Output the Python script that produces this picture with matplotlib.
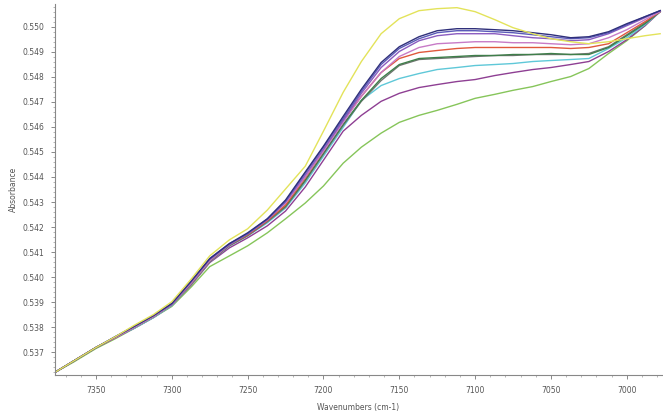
import matplotlib
matplotlib.use("Agg")
import matplotlib.pyplot as plt
from matplotlib.ticker import MultipleLocator, FormatStrFormatter

wavenumber = [7377, 7365, 7350, 7337, 7325, 7312, 7300, 7287, 7275, 7262, 7250,
              7237, 7225, 7212, 7200, 7187, 7175, 7162, 7150, 7137, 7125, 7112,
              7100, 7087, 7075, 7062, 7050, 7037, 7025, 7012, 7000, 6988, 6978]

yellow = [0.53620, 0.53664, 0.53719, 0.53763, 0.53807, 0.53851, 0.53902, 0.53994, 0.54085,
          0.54149, 0.54193, 0.54268, 0.54352, 0.54443, 0.54583, 0.54738, 0.54861, 0.54972,
          0.55032, 0.55064, 0.55072, 0.55076, 0.55060, 0.55028, 0.54996, 0.54972, 0.54952,
          0.54940, 0.54932, 0.54940, 0.54952, 0.54964, 0.54972]
navy = [0.53620, 0.53664, 0.53719, 0.53763, 0.53803, 0.53847, 0.53895, 0.53986, 0.54074,
        0.54134, 0.54177, 0.54233, 0.54308, 0.54420, 0.54523, 0.54642, 0.54750, 0.54857,
        0.54920, 0.54960, 0.54984, 0.54992, 0.54992, 0.54988, 0.54984, 0.54976, 0.54968,
        0.54956, 0.54960, 0.54980, 0.55012, 0.55040, 0.55064]
blue = [0.53620, 0.53664, 0.53719, 0.53763, 0.53803, 0.53847, 0.53895, 0.53986, 0.54074,
        0.54134, 0.54173, 0.54233, 0.54304, 0.54416, 0.54519, 0.54634, 0.54742, 0.54849,
        0.54913, 0.54952, 0.54976, 0.54984, 0.54984, 0.54980, 0.54976, 0.54968, 0.54960,
        0.54952, 0.54956, 0.54976, 0.55008, 0.55040, 0.55064]
purple = [0.53620, 0.53664, 0.53719, 0.53763, 0.53803, 0.53847, 0.53891, 0.53982, 0.54070,
          0.54130, 0.54173, 0.54229, 0.54300, 0.54408, 0.54511, 0.54626, 0.54734, 0.54837,
          0.54901, 0.54944, 0.54964, 0.54972, 0.54972, 0.54972, 0.54964, 0.54956, 0.54952,
          0.54944, 0.54948, 0.54972, 0.55004, 0.55036, 0.55064]
pink = [0.53620, 0.53664, 0.53719, 0.53759, 0.53799, 0.53843, 0.53891, 0.53978, 0.54066,
        0.54130, 0.54173, 0.54229, 0.54296, 0.54400, 0.54503, 0.54618, 0.54722, 0.54817,
        0.54881, 0.54917, 0.54932, 0.54936, 0.54940, 0.54940, 0.54936, 0.54936, 0.54932,
        0.54928, 0.54932, 0.54956, 0.54988, 0.55028, 0.55060]
red = [0.53620, 0.53664, 0.53719, 0.53759, 0.53799, 0.53843, 0.53891, 0.53978, 0.54066,
       0.54130, 0.54169, 0.54225, 0.54288, 0.54396, 0.54503, 0.54626, 0.54722, 0.54817,
       0.54873, 0.54897, 0.54905, 0.54913, 0.54917, 0.54917, 0.54917, 0.54917, 0.54917,
       0.54913, 0.54917, 0.54932, 0.54976, 0.55020, 0.55060]
dkgreen = [0.53620, 0.53664, 0.53719, 0.53759, 0.53799, 0.53843, 0.53891, 0.53978, 0.54066,
           0.54130, 0.54169, 0.54225, 0.54284, 0.54388, 0.54495, 0.54610, 0.54706, 0.54793,
           0.54849, 0.54873, 0.54877, 0.54881, 0.54885, 0.54885, 0.54889, 0.54889, 0.54893,
           0.54889, 0.54889, 0.54917, 0.54964, 0.55012, 0.55060]
gray = [0.53620, 0.53664, 0.53719, 0.53759, 0.53799, 0.53843, 0.53891, 0.53974, 0.54062,
        0.54125, 0.54165, 0.54221, 0.54280, 0.54384, 0.54491, 0.54606, 0.54702, 0.54785,
        0.54845, 0.54869, 0.54873, 0.54877, 0.54881, 0.54885, 0.54885, 0.54889, 0.54889,
        0.54889, 0.54893, 0.54920, 0.54968, 0.55016, 0.55060]
cyan = [0.53620, 0.53664, 0.53719, 0.53759, 0.53795, 0.53839, 0.53887, 0.53974, 0.54062,
        0.54125, 0.54165, 0.54217, 0.54276, 0.54376, 0.54483, 0.54598, 0.54706, 0.54765,
        0.54793, 0.54813, 0.54829, 0.54837, 0.54845, 0.54849, 0.54853, 0.54861, 0.54865,
        0.54869, 0.54873, 0.54913, 0.54956, 0.55008, 0.55060]
plum = [0.53620, 0.53664, 0.53719, 0.53759, 0.53795, 0.53839, 0.53887, 0.53970, 0.54058,
        0.54117, 0.54157, 0.54205, 0.54264, 0.54360, 0.54467, 0.54583, 0.54646, 0.54702,
        0.54734, 0.54757, 0.54769, 0.54781, 0.54789, 0.54805, 0.54817, 0.54829, 0.54837,
        0.54849, 0.54861, 0.54901, 0.54948, 0.55004, 0.55060]
lime = [0.53620, 0.53660, 0.53715, 0.53755, 0.53795, 0.53839, 0.53883, 0.53962, 0.54042,
        0.54085, 0.54125, 0.54177, 0.54233, 0.54296, 0.54364, 0.54455, 0.54519, 0.54575,
        0.54618, 0.54646, 0.54666, 0.54690, 0.54714, 0.54730, 0.54746, 0.54761, 0.54781,
        0.54801, 0.54833, 0.54893, 0.54944, 0.55004, 0.55064]

series = [
    (lime, "#86c55a"),
    (plum, "#8e3f93"),
    (cyan, "#5fc8d8"),
    (gray, "#6f7470"),
    (dkgreen, "#3f7f4a"),
    (red, "#e0583c"),
    (pink, "#c77bc7"),
    (purple, "#8a5cc0"),
    (blue, "#5a5ab8"),
    (navy, "#2f2f7a"),
    (yellow, "#e3e35a"),
]

fig = plt.figure(figsize=(6.63, 4.16), dpi=100)
ax = fig.add_axes([0.083, 0.099, 0.915, 0.891])

for vals, col in series:
    ax.plot(wavenumber, vals, color=col, lw=1.0)

ax.set_xlim(7377, 6977)
ax.set_ylim(0.5361, 0.5509)

ax.xaxis.set_major_locator(MultipleLocator(50))
ax.xaxis.set_minor_locator(MultipleLocator(10))
ax.yaxis.set_major_locator(MultipleLocator(0.001))
ax.yaxis.set_minor_locator(MultipleLocator(0.0002))
ax.yaxis.set_major_formatter(FormatStrFormatter("%.3f"))

for s in ["top", "right"]:
    ax.spines[s].set_visible(False)
for s in ["left", "bottom"]:
    ax.spines[s].set_color("#888888")
    ax.spines[s].set_linewidth(0.8)

ax.tick_params(which="major", length=3, width=0.7, color="#888888",
               labelsize=5.5, labelcolor="#555555", pad=5)
ax.tick_params(which="minor", length=1.5, width=0.5, color="#999999")

ax.set_xlabel("Wavenumbers (cm-1)", fontsize=5.5, color="#555555", labelpad=6)
ax.set_ylabel("Absorbance", fontsize=5.5, color="#555555", labelpad=3)

fig.savefig("out.png", dpi=100)
